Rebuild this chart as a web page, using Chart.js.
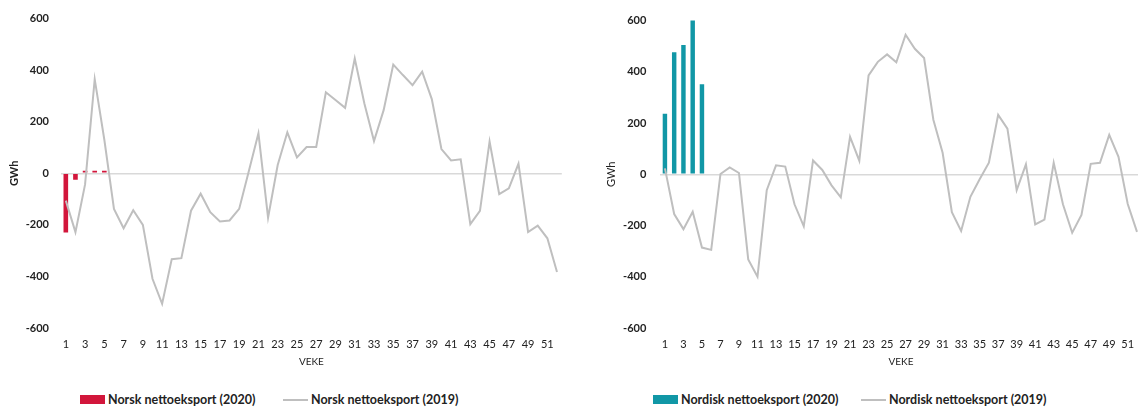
<!DOCTYPE html>
<html>
<head>
<meta charset="utf-8">
<script src="https://cdn.jsdelivr.net/npm/chart.js@4.4.1/dist/chart.umd.min.js"></script>
<style>
  html, body { margin: 0; padding: 0; background: #fff; overflow: hidden; }
  body { width: 1138px; height: 410px; position: relative; font-family: Lato, 'Open Sans', sans-serif; }
  .box { position: absolute; top: 0; height: 370px; }
  .legend { position: absolute; top: 391px; font-size: 12.5px; font-weight: bold; color: #222; white-space: nowrap; }
  .legend span { display: inline-block; vertical-align: middle; }
  .sw { width: 25px; height: 9px; margin-right: 3px; }
  .ln { width: 25px; height: 2px; background: #bfbfbf; margin-right: 3px; }
</style>
</head>
<body>
<div class="box" style="left:0;width:567px"><canvas id="norskChart"></canvas></div>
<div class="box" style="left:597px;width:550px"><canvas id="nordiskChart"></canvas></div>

<div class="legend" style="left:80px"><span class="sw" style="background:#d2163b"></span><span>Norsk nettoeksport (2020)</span></div>
<div class="legend" style="left:283px"><span class="ln"></span><span>Norsk nettoeksport (2019)</span></div>
<div class="legend" style="left:653px"><span class="sw" style="background:#1197a6"></span><span>Nordisk nettoeksport (2020)</span></div>
<div class="legend" style="left:861px"><span class="ln"></span><span>Nordisk nettoeksport (2019)</span></div>

<script>
const weeks = Array.from({ length: 52 }, (_, i) => String(i + 1))

// Norsk nettoeksport, GWh per veke
const norsk2020 = [-230, -25, 10, 10, 10]
const norsk2019 = [
  -106, -228, -43, 365, 130, -138, -213, -143, -200, -409,
  -506, -333, -329, -145, -79, -151, -187, -183, -138, 8,
  155, -172, 32, 159, 62, 102, 102, 314, 284, 254,
  445, 271, 125, 245, 422, 381, 342, 394, 288, 94,
  50, 54, -197, -146, 123, -81, -58, 37, -228, -203,
  -252, -383,
]

// Nordisk nettoeksport, GWh per veke
const nordisk2020 = [236, 476, 505, 608, 352]
const nordisk2019 = [
  23, -155, -214, -146, -286, -295, 1, 27, 5, -332,
  -400, -62, 35, 30, -117, -203, 54, 17, -43, -90,
  146, 53, 386, 439, 468, 437, 545, 490, 454, 213,
  84, -148, -221, -88, -19, 45, 232, 178, -62, 39,
  -196, -177, 45, -117, -228, -159, 41, 45, 154, 68,
  -116, -225,
]

const yTicks = [-600, -400, -200, 0, 200, 400, 600]

const makeChart = (id, barLabel, barData, barColor, lineLabel, lineData, yWidth, yTitleBold, yPad) => {
  return new Chart(document.getElementById(id), {
    data: {
      labels: weeks,
      datasets: [
        {
          type: 'line',
          label: lineLabel,
          data: lineData,
          borderColor: '#bfbfbf',
          borderWidth: 2,
          pointRadius: 0,
          tension: 0,
          order: 0,
        },
        {
          type: 'bar',
          label: barLabel,
          data: barData,
          backgroundColor: barColor,
          barPercentage: 0.48,
          categoryPercentage: 1,
          order: 1,
        },
      ],
    },
    options: {
      responsive: true,
      maintainAspectRatio: false,
      animation: false,
      layout: { padding: { top: 14, right: 0, left: 0, bottom: 0 } },
      plugins: { legend: { display: false }, tooltip: { enabled: false } },
      scales: {
        x: {
          offset: true,
          grid: { display: false, drawTicks: false },
          border: { display: false },
          ticks: {
            autoSkip: false,
            maxRotation: 0,
            padding: 10,
            color: '#222',
            font: { family: 'Lato', size: 11 },
            callback: (v, i) => (i % 2 === 0 ? weeks[i] : ''),
          },
          title: { display: true, text: 'VEKE', color: '#222', font: { family: 'Lato', size: 10 }, padding: { top: 2, bottom: 2 } },
          afterFit: (scale) => { scale.height = 42 },
        },
        y: {
          min: -600,
          max: 600,
          afterBuildTicks: (scale) => { scale.ticks = yTicks.map((v) => ({ value: v })) },
          grid: {
            drawTicks: false,
            color: (c) => (c.tick && c.tick.value === 0 ? '#d9d9d9' : 'rgba(0,0,0,0)'),
            lineWidth: 1.5,
          },
          border: { display: false },
          ticks: { padding: yPad, color: '#222', font: { family: 'Lato', size: 11, weight: 'bold' } },
          title: { display: true, text: 'GWh', color: '#222', font: { family: 'Lato', size: 11, weight: yTitleBold ? 'bold' : 'normal' }, padding: { top: 8, bottom: 0 } },
          afterFit: (scale) => { scale.width = yWidth },
        },
      },
    },
  })
}

makeChart('norskChart', 'Norsk nettoeksport (2020)', norsk2020, '#d2163b', 'Norsk nettoeksport (2019)', norsk2019, 61, true, 12)
makeChart('nordiskChart', 'Nordisk nettoeksport (2020)', nordisk2020, '#1197a6', 'Nordisk nettoeksport (2019)', nordisk2019, 63.3, false, 14)
</script>
</body>
</html>
